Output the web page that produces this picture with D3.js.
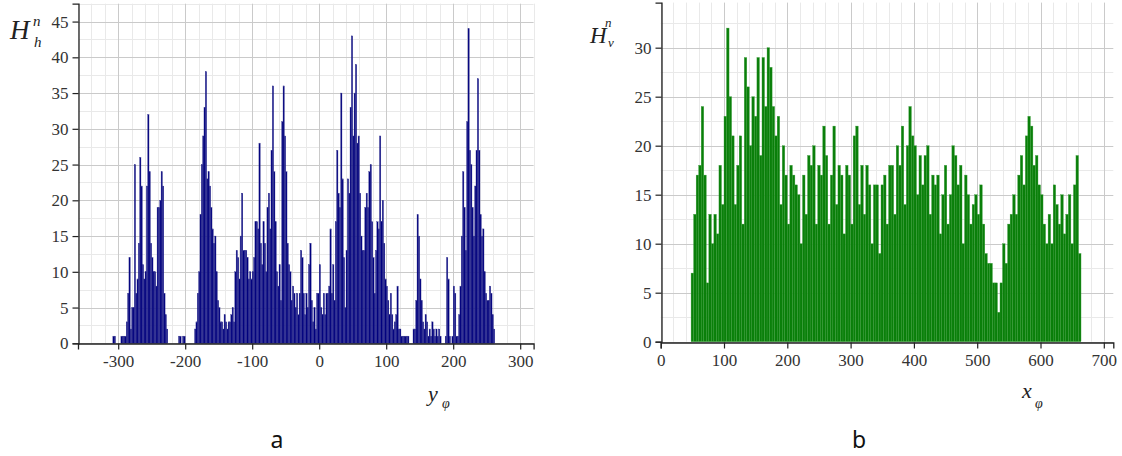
<!DOCTYPE html>
<html lang="en">
<head>
<meta charset="UTF-8">
<title>Histograms H_h and H_v</title>
<script src="https://cdnjs.cloudflare.com/ajax/libs/d3/7.8.5/d3.min.js"></script>
<style>
  html, body { margin: 0; padding: 0; background: #fff; }
  svg { display: block; }
  .lbl { font-family: "Liberation Serif", "DejaVu Serif", serif; font-style: italic; fill: #222; }
  .panel { font-family: "Noto Sans", "DejaVu Sans", sans-serif; font-size: 23px; fill: #111; }
</style>
</head>
<body>
<svg width="1122" height="456"></svg>
<script>
// --- panel a: H_h^n over y_phi, bins of 2 starting at -308
var hStart = -308, hStep = 2;
var hCounts = [
  1,1,0,0,0,0,1,1,1,1,          // -308
  3,7,12,2,5,5,25,7,9,14,       // -288
  26,22,11,9,10,22,32,24,14,12, // -268
  10,10,8,19,19,20,24,22,7,4,   // -248
  2,0,0,0,0,0,0,0,0,1,          // -228
  1,0,1,1,0,0,0,0,0,0,          // -208
  0,2,3,7,10,18,25,29,33,38,    // -188
  23,24,22,19,16,14,15,10,6,5,  // -168
  3,3,2,4,3,2,3,3,4,5,          // -148
  3,10,13,12,9,15,21,13,13,13,  // -128
  12,9,10,9,10,12,17,17,16,28,  // -108
  14,11,17,14,10,19,21,16,27,36,// -88
  24,17,10,8,11,6,31,36,29,24,  // -68
  14,11,10,6,8,7,5,7,4,7,       // -48
  13,12,7,4,7,5,11,14,6,3,      // -28
  5,2,7,7,11,5,4,7,4,7,         // -8
  7,8,16,7,11,6,17,27,21,19,    // 12
  35,23,12,5,13,23,21,33,43,29, // 32
  35,39,28,29,21,15,13,13,19,21,// 52
  19,24,25,17,12,7,13,17,16,29, // 72
  17,20,14,9,8,6,4,7,4,2,       // 92
  3,4,8,2,2,1,1,1,1,1,          // 112
  1,0,0,0,2,2,6,18,15,9,        // 132
  6,3,2,4,3,1,2,1,3,2,          // 152
  1,2,1,2,1,0,0,0,1,12,         // 172
  9,1,0,1,8,7,1,1,4,8,          // 192
  15,24,19,13,31,44,27,25,19,15,// 212
  22,27,37,27,18,15,16,10,7,6,  // 232
  6,8,7,4,2                     // 252
];
var hXTicks = [-300, -200, -100, 0, 100, 200, 300];
var hYTicks = [0, 5, 10, 15, 20, 25, 30, 35, 40, 45];

// --- panel b: H_v^n over x_phi, bins of 4 starting at 48
var vStart = 48, vStep = 4;
var vCounts = [
  7,13,17,18,24,17,6,13,10,13,      // 48
  11,18,14,23,32,25,21,14,18,21,    // 88
  12,29,26,20,25,23,29,19,29,24,    // 128
  30,28,24,21,23,14,20,17,12,18,    // 168
  17,16,15,10,17,13,19,18,20,12,    // 208
  18,17,22,19,12,17,22,14,18,17,    // 248
  11,18,17,12,21,22,14,18,13,18,    // 288
  16,10,16,16,9,16,17,12,18,18,     // 328
  13,20,18,22,14,20,24,21,20,15,    // 368
  19,16,19,20,13,17,16,17,11,15,    // 408
  18,12,15,20,19,16,18,10,17,15,    // 448
  12,14,15,13,16,12,9,8,8,6,        // 488
  6,3,6,10,8,12,13,15,13,17,        // 528
  19,16,21,23,22,18,19,16,15,12,    // 568
  10,13,10,16,14,12,15,11,13,15,    // 608
  10,16,19,9                        // 648
];
var vXTicks = [0, 100, 200, 300, 400, 500, 600, 700];
var vYTicks = [0, 5, 10, 15, 20, 25, 30];

var svg = d3.select("svg");

function drawPanel(p) {
  var x = d3.scaleLinear().domain(p.xDomain).range(p.xRange);
  var y = d3.scaleLinear().domain(p.yDomain).range(p.yRange);
  var g = svg.append("g");

  // grid: minor first, major over it
  var grid = g.append("g").attr("fill", "none");
  grid.selectAll(".gxm").data(p.xMinor).enter().append("line")
    .attr("x1", function(d){ return Math.round(x(d)) + 0.5; })
    .attr("x2", function(d){ return Math.round(x(d)) + 0.5; })
    .attr("y1", p.yRange[0]).attr("y2", p.yRange[1])
    .attr("stroke", "#e9e9e9");
  grid.selectAll(".gym").data(p.yMinor).enter().append("line")
    .attr("y1", function(d){ return Math.round(y(d)) + 0.5; })
    .attr("y2", function(d){ return Math.round(y(d)) + 0.5; })
    .attr("x1", p.xRange[0]).attr("x2", p.xRange[1])
    .attr("stroke", "#e9e9e9");
  grid.selectAll(".gx").data(p.xTicks).enter().append("line")
    .attr("x1", function(d){ return Math.round(x(d)) + 0.5; })
    .attr("x2", function(d){ return Math.round(x(d)) + 0.5; })
    .attr("y1", p.yRange[0]).attr("y2", p.yRange[1])
    .attr("stroke", "#cacaca");
  grid.selectAll(".gy").data(p.yTicks).enter().append("line")
    .attr("y1", function(d){ return Math.round(y(d)) + 0.5; })
    .attr("y2", function(d){ return Math.round(y(d)) + 0.5; })
    .attr("x1", p.xRange[0]).attr("x2", p.xRange[1])
    .attr("stroke", "#cacaca");

  // histogram bars
  var bins = p.counts.map(function(c, i){
    return { x0: p.start + i * p.step, x1: p.start + (i + 1) * p.step, n: c };
  }).filter(function(b){ return b.n > 0; });

  g.append("g").selectAll("rect").data(bins).enter().append("rect")
    .attr("x", function(d){ return x(d.x0); })
    .attr("width", function(d){ return x(d.x1) - x(d.x0); })
    .attr("y", function(d){ return y(d.n); })
    .attr("height", function(d){ return y(0) - y(d.n); })
    .attr("fill", p.fill)
    .attr("stroke", p.edge)
    .attr("stroke-width", 0.35);

  // axes, major + minor ticks
  var fmt = function(d){ return String(d); };
  var xa = g.append("g").attr("transform", "translate(0," + (Math.round(y(0)) + 0.5) + ")");
  xa.call(d3.axisBottom(x).tickValues(p.xMinor).tickSize(3).tickFormat(""));
  xa.call(d3.axisBottom(x).tickValues(p.xTicks).tickSize(6).tickPadding(5).tickFormat(fmt));
  var ya = g.append("g").attr("transform", "translate(" + (Math.round(x(p.xDomain[0])) + 0.5) + ",0)");
  ya.call(d3.axisLeft(y).tickValues(p.yMinor).tickSize(3).tickFormat(""));
  ya.call(d3.axisLeft(y).tickValues(p.yTicks).tickSize(6).tickPadding(4).tickFormat(fmt));
  g.selectAll(".domain").attr("stroke", "#222").attr("stroke-width", 1.3);
  g.selectAll(".tick line").attr("stroke", "#222").attr("stroke-width", 1.2);
  g.selectAll(".tick text")
    .style("font-family", "'Liberation Serif', 'Times New Roman', serif")
    .style("font-size", "17px")
    .style("fill", "#333");
}

drawPanel({
  counts: hCounts, start: hStart, step: hStep,
  xDomain: [-360, 320], xRange: [78, 533.6],
  yDomain: [0, 47.5], yRange: [343.3, 3.7],
  xTicks: hXTicks, yTicks: hYTicks,
  xMinor: d3.range(-360, 321, 20).filter(function(d){ return d % 100 !== 0; }),
  yMinor: d3.range(2.5, 47.6, 5),
  fill: "#00007e", edge: "#3c3c94"
});

drawPanel({
  counts: vCounts, start: vStart, step: vStep,
  xDomain: [0, 715], xRange: [660.7, 1113.3],
  yDomain: [0, 34.6], yRange: [341.7, 2.6],
  xTicks: vXTicks, yTicks: vYTicks,
  xMinor: d3.range(0, 715, 20).filter(function(d){ return d % 100 !== 0; }),
  yMinor: d3.range(2.5, 34.6, 5),
  fill: "#0a7f0a", edge: "#3a9e3a"
});

// axis titles
function sym(x, y, size, s) {
  svg.append("text").attr("class", "lbl").attr("x", x).attr("y", y)
    .attr("font-size", size).text(s);
}
sym(10, 39, 27, "H"); sym(33, 26, 15, "n"); sym(34, 47, 15, "h");
sym(590, 43, 23, "H"); sym(605, 27, 13, "n"); sym(608, 47, 13, "v");
sym(428, 401, 22, "y"); sym(442, 408, 14, "\u03c6");
sym(1022, 398, 22, "x"); sym(1035, 408, 14, "\u03c6");

// panel letters
svg.append("text").attr("class", "panel").attr("x", 277).attr("y", 448)
  .attr("text-anchor", "middle").text("a");
svg.append("text").attr("class", "panel").attr("x", 859).attr("y", 448)
  .attr("text-anchor", "middle").text("b");
</script>
</body>
</html>
